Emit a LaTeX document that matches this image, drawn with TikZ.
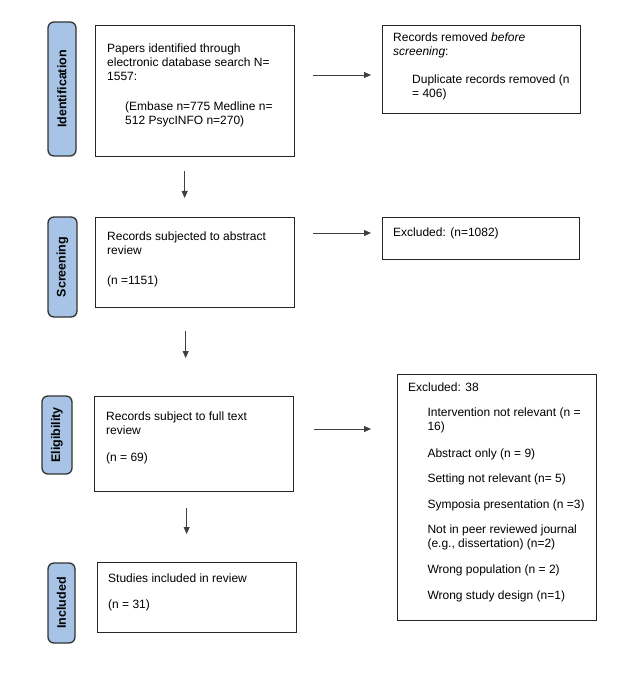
\documentclass[tikz,border=0pt]{standalone}
\usepackage{fontspec}
\setmainfont{Liberation Sans}
\usetikzlibrary{arrows.meta}
\definecolor{phaseblue}{HTML}{A7C3E6}
\begin{document}
\begin{tikzpicture}[x=1pt,y=-1pt,
  box/.style={draw=black!85, line width=1.3pt, anchor=north west, inner sep=0pt},
  phase/.style={draw=black!80, line width=1.3pt, fill=phaseblue, rounded corners=6pt,
    rotate=90, inner sep=0pt, font=\bfseries\fontsize{12.5}{14}\selectfont},
  txt/.style={anchor=base west, inner sep=0pt, font=\fontsize{12}{14}\selectfont},
  arr/.style={-{Triangle[length=7pt,width=6pt]}, line width=0.8pt, draw=black!75}]
\useasboundingbox (0,0) rectangle (633,676);

% phase labels
\node[phase, minimum width=134pt, minimum height=28pt] (p1) at (62,89) {Identification};
\node[phase, minimum width=100pt, minimum height=29pt] (p2) at (62.5,267) {Screening};
\node[phase, minimum width=78pt, minimum height=30pt] (p3) at (57,435) {Eligibility};
\node[phase, minimum width=80pt, minimum height=27pt] (p4) at (61.5,603) {Included};

% main boxes
\node[box, minimum width=199pt, minimum height=131pt] (b1) at (95,25) {};
\node[box, minimum width=199pt, minimum height=90pt] (b2) at (95,217) {};
\node[box, minimum width=199pt, minimum height=95pt] (b3) at (94,396) {};
\node[box, minimum width=199pt, minimum height=70pt] (b4) at (97,562) {};

% right boxes
\node[box, minimum width=198pt, minimum height=88pt] (r1) at (382,25) {};
\node[box, minimum width=197pt, minimum height=42pt] (r2) at (382,217) {};
\node[box, minimum width=199pt, minimum height=246pt] (r3) at (397,374) {};

% texts box 1
\node[txt] (t11) at (107,52.8) {Papers identified through};
\node[txt] (t12) at (107,66.8) {electronic database search N=};
\node[txt] (t13) at (107,80.8) {1557:};
\node[txt] (t14) at (125,110.5) {(Embase n=775 Medline n=};
\node[txt] (t15) at (125,124.5) {512 PsycINFO n=270)};

% texts r1
\node[txt] (t21) at (393,42) {Records removed \textit{before}};
\node[txt] (t22) at (393,56) {\textit{screening}:};
\node[txt] (t23) at (412,83.6) {Duplicate records removed (n};
\node[txt] (t24) at (412,97.6) {= 406)};

% texts box 2
\node[txt] (t31) at (107,240.3) {Records subjected to abstract};
\node[txt] (t32) at (107,254.3) {review};
\node[txt] (t33) at (107,284.3) {(n =1151)};

% texts r2
\node[txt] (t41) at (393,236) {Excluded: (n=1082)};

% texts box 3
\node[txt] (t51) at (106,420.3) {Records subject to full text};
\node[txt] (t52) at (106,434.3) {review};
\node[txt] (t53) at (106,461.5) {(n = 69)};

% texts r3
\node[txt] (t61) at (408,391.3) {Excluded: 38};
\node[txt] (t62) at (427.3,416.3) {Intervention not relevant (n =};
\node[txt] (t63) at (427.3,430.3) {16)};
\node[txt] (t64) at (427.3,457) {Abstract only (n = 9)};
\node[txt] (t65) at (427.3,482) {Setting not relevant (n= 5)};
\node[txt] (t66) at (427.3,508) {Symposia presentation (n =3)};
\node[txt] (t67) at (427.3,533.6) {Not in peer reviewed journal};
\node[txt] (t68) at (427.3,547.6) {(e.g., dissertation) (n=2)};
\node[txt] (t69) at (427.3,573.6) {Wrong population (n = 2)};
\node[txt] (t6a) at (427.3,599.6) {Wrong study design (n=1)};

% texts box 4
\node[txt] (t71) at (108,582.6) {Studies included in review};
\node[txt] (t72) at (108,608) {(n = 31)};

% horizontal arrows
\draw[arr] ([xshift=18pt,yshift=-50pt]b1.north east) -- ([xshift=-11pt,yshift=-50pt]r1.north west);
\draw[arr] ([xshift=18pt,yshift=-16pt]b2.north east) -- ([xshift=-11pt,yshift=-16pt]r2.north west);
\draw[arr] ([xshift=20pt,yshift=-33pt]b3.north east) -- ([xshift=-26pt,yshift=-55pt]r3.north west);

% vertical arrows
\draw[arr] ([xshift=-10.5pt,yshift=-14pt]b1.south) -- ([xshift=-10.5pt,yshift=19pt]b2.north);
\draw[arr] ([xshift=-9.5pt,yshift=-23pt]b2.south) -- ([xshift=-8.5pt,yshift=38pt]b3.north);
\draw[arr] ([xshift=-7.5pt,yshift=-16pt]b3.south) -- ([xshift=-10.5pt,yshift=28pt]b4.north);
\end{tikzpicture}
\end{document}
